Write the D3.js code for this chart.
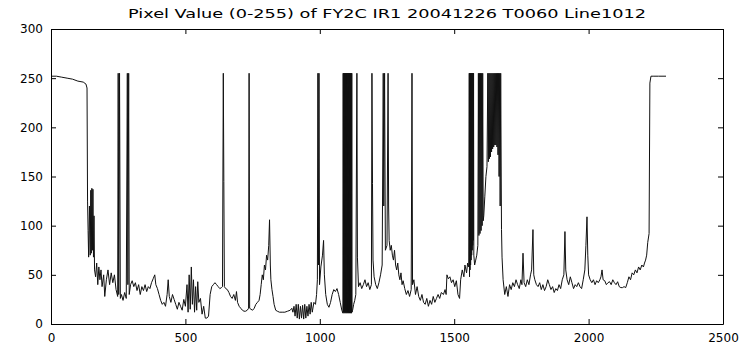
<!DOCTYPE html>
<html>
<head>
<meta charset="utf-8">
<script src="https://cdn.jsdelivr.net/npm/d3@7"></script>
<style>
  html, body { margin: 0; padding: 0; background: #fff; }
  svg { display: block; }
  .tick text { font-family: "DejaVu Sans", sans-serif; font-size: 12px; fill: #000; }
</style>
</head>
<body>
<div id="chart"></div>
<script>
const titleText = 'Pixel Value (0-255) of FY2C IR1 20041226 T0060 Line1012';
const xTicks = [0, 500, 1000, 1500, 2000, 2500];
const yTicks = [0, 50, 100, 150, 200, 250, 300];

// [pixel column, pixel value]
const lineSamples = [
  [0,252],[20,252],[40,251],[60,250],[80,249],[100,247],[120,246],[130,244],[134,240],[136,125],
  [138,95],[140,68],[143,120],[146,70],[148,136],[150,72],[152,138],[154,75],[156,137],[158,68],
  [160,110],[162,55],[166,48],[170,62],[174,40],[178,58],[182,45],[186,55],[190,38],[196,50],
  [200,28],[206,45],[212,55],[218,40],[224,52],[230,42],[236,50],[242,35],[248,28],[250,255],
  [252,30],[255,255],[258,26],[262,30],[268,24],[274,32],[280,26],[284,255],[286,40],[289,255],
  [291,30],[296,40],[302,44],[308,38],[314,42],[320,34],[326,40],[332,30],[338,38],[344,34],
  [350,40],[356,33],[362,38],[368,36],[374,42],[380,46],[386,50],[390,40],[396,36],[402,30],
  [408,24],[414,20],[420,22],[426,18],[432,30],[436,45],[440,28],[446,22],[452,30],[458,25],
  [464,20],[470,15],[476,22],[482,18],[488,14],[494,25],[500,18],[506,40],[510,12],[514,50],
  [518,15],[522,58],[526,20],[530,45],[534,12],[538,38],[542,14],[546,43],[550,22],[556,26],
  [562,10],[568,18],[574,6],[580,6],[586,8],[592,30],[598,38],[604,40],[610,42],[616,40],
  [622,38],[628,36],[634,37],[638,38],[641,255],[643,145],[645,38],[650,36],[656,35],[662,32],
  [668,28],[674,26],[680,30],[686,24],[690,33],[694,22],[700,18],[706,16],[712,14],[718,13],
  [724,13],[730,14],[735,16],[737,255],[739,16],[744,15],[750,14],[756,16],[762,20],[768,22],
  [774,24],[778,30],[782,40],[786,50],[790,45],[794,60],[798,55],[802,70],[806,65],[810,80],
  [813,106],[816,60],[818,45],[822,35],[826,28],[830,20],[836,14],[842,13],[850,12],[860,12],
  [870,12],[880,13],[890,14],[896,16],[900,12],[904,18],[908,8],[912,20],[916,6],[920,20],
  [924,5],[928,18],[932,6],[936,19],[940,5],[944,20],[948,6],[952,18],[956,8],[960,20],
  [964,10],[968,22],[972,12],[978,22],[984,20],[988,30],
  [991,45],[993,255],[995,60],[997,255],[999,40],[1004,58],[1010,70],[1014,85],[1017,50],[1022,30],
  [1028,20],[1034,17],[1040,22],[1046,30],[1052,35],[1058,33],[1064,36],[1070,30],[1076,22],[1082,14],
  [1086,11],[1087,255],[1088,12],[1089,255],[1090,11],[1091,255],[1092,12],[1093,255],[1094,11],[1095,255],
  [1096,12],[1097,255],[1098,11],[1099,255],[1100,12],[1101,255],[1102,11],[1103,255],[1104,12],[1105,255],
  [1106,11],[1107,255],[1108,12],[1109,255],[1110,11],[1111,255],[1112,12],[1113,255],[1114,11],[1115,255],
  [1116,12],[1117,255],[1118,11],[1119,255],[1120,12],[1122,14],[1126,20],
  [1130,24],[1134,30],[1138,255],[1140,68],[1144,38],[1150,42],[1156,36],[1162,40],[1168,45],[1174,38],
  [1180,42],[1186,35],[1192,40],[1194,255],[1196,143],[1198,65],[1202,48],[1208,40],[1214,36],[1220,42],
  [1226,50],[1232,60],[1236,255],[1238,120],[1241,255],[1244,75],[1250,80],[1254,255],[1256,120],[1258,85],
  [1262,75],[1266,80],[1270,70],[1274,65],[1278,75],[1282,60],[1286,55],[1290,62],[1294,50],[1298,45],
  [1302,52],[1306,40],[1310,44],[1316,36],[1322,30],[1328,34],[1334,28],[1340,35],[1343,255],[1345,40],
  [1350,45],[1356,30],[1362,38],[1368,28],[1374,24],[1380,30],[1386,22],[1392,20],[1398,26],[1404,18],
  [1410,24],[1416,20],[1422,28],[1428,22],[1434,26],[1440,30],[1446,26],[1452,32],[1460,30],[1466,35],
  [1470,30],[1473,50],[1478,46],[1484,48],[1490,42],[1496,45],[1502,38],[1508,44],[1514,30],[1520,26],
  [1524,45],[1530,55],[1536,48],[1540,60],[1546,52],[1550,62],[1554,58],
  [1556,255],[1557,48],[1558,255],[1559,55],[1560,255],[1561,60],[1562,255],[1563,65],[1564,255],[1565,70],
  [1566,255],[1567,75],[1568,255],[1569,80],[1570,255],[1571,85],[1572,255],[1573,70],
  [1576,60],[1580,65],[1584,70],[1588,80],
  [1590,255],[1592,90],[1594,255],[1596,92],[1598,255],[1600,95],[1602,255],[1604,100],[1606,255],[1608,105],
  [1610,110],[1614,130],[1618,150],[1622,160],
  [1625,255],[1627,165],[1629,255],[1631,168],[1633,255],[1635,170],[1637,255],[1639,175],[1641,255],[1643,178],
  [1645,255],[1647,180],[1649,255],[1651,182],[1653,255],[1655,182],[1657,255],[1659,180],[1661,255],[1663,172],
  [1665,255],[1667,150],[1669,255],[1671,120],[1673,255],[1676,96],[1678,68],
  [1682,45],[1688,30],[1694,38],[1700,28],[1706,40],[1712,35],[1718,42],[1724,38],[1730,45],[1736,40],
  [1742,36],[1748,45],[1752,40],[1756,72],[1760,42],[1766,38],[1772,45],[1778,40],[1784,50],[1788,55],
  [1793,96],[1796,50],[1800,45],[1806,40],[1812,38],[1818,42],[1824,35],[1830,40],[1836,34],[1842,38],
  [1848,45],[1854,40],[1860,35],[1866,38],[1872,32],[1878,36],[1884,34],[1890,40],[1896,36],[1902,45],
  [1908,50],[1912,94],[1915,55],[1920,45],[1926,40],[1932,48],[1938,42],[1944,36],[1950,40],[1956,38],
  [1962,42],[1968,38],[1974,36],[1980,45],[1986,55],[1990,80],[1994,109],[1997,70],[2000,50],[2006,45],
  [2012,42],[2018,45],[2024,40],[2030,44],[2036,42],[2042,45],[2046,48],[2050,55],[2054,45],[2060,44],
  [2066,40],[2072,42],[2078,43],[2084,40],[2090,45],[2096,42],[2102,40],[2108,43],[2114,38],[2120,37],
  [2126,37],[2132,38],[2138,37],[2144,42],[2150,48],[2156,45],[2162,52],[2168,50],[2174,55],[2180,52],
  [2186,58],[2192,55],[2198,60],[2204,58],[2208,62],[2212,65],[2216,70],[2220,83],[2225,92],[2228,245],
  [2232,252],[2240,252],[2260,252],[2288,252]
];

const width = 745;
const height = 345;
const margin = { top: 29, right: 22, bottom: 21, left: 51 };

const svg = d3.select('#chart')
  .append('svg')
  .attr('width', width)
  .attr('height', height);

const x = d3.scaleLinear()
  .domain([0, 2500])
  .range([margin.left, width - margin.right]);

const y = d3.scaleLinear()
  .domain([0, 300])
  .range([height - margin.bottom, margin.top]);

// the trace
const line = d3.line()
  .x(d => x(d[0]))
  .y(d => y(d[1]));

svg.append('path')
  .datum(lineSamples)
  .attr('fill', 'none')
  .attr('stroke', '#111')
  .attr('stroke-width', 1)
  .attr('d', line);

// box axes, MATLAB style: ticks point inward on all four sides
const tickLen = -5;
const plain = d3.format('d');

svg.append('g')
  .attr('transform', `translate(0,${height - margin.bottom})`)
  .call(d3.axisBottom(x).tickValues(xTicks).tickFormat(plain).tickSize(tickLen).tickSizeOuter(0).tickPadding(9));

svg.append('g')
  .attr('transform', `translate(0,${margin.top})`)
  .call(d3.axisTop(x).tickValues(xTicks).tickSize(tickLen).tickSizeOuter(0).tickFormat(''));

svg.append('g')
  .attr('transform', `translate(${margin.left},0)`)
  .call(d3.axisLeft(y).tickValues(yTicks).tickFormat(plain).tickSize(tickLen).tickSizeOuter(0).tickPadding(8));

svg.append('g')
  .attr('transform', `translate(${width - margin.right},0)`)
  .call(d3.axisRight(y).tickValues(yTicks).tickSize(tickLen).tickSizeOuter(0).tickFormat(''));

svg.selectAll('.domain').attr('stroke', '#000');
svg.selectAll('.tick line').attr('stroke', '#000');

svg.append('text')
  .attr('x', (margin.left + width - margin.right) / 2)
  .attr('y', 18)
  .attr('text-anchor', 'middle')
  .attr('font-family', '"DejaVu Sans", sans-serif')
  .attr('font-size', 12)
  .attr('textLength', 518)
  .attr('lengthAdjust', 'spacingAndGlyphs')
  .text(titleText);
</script>
</body>
</html>
